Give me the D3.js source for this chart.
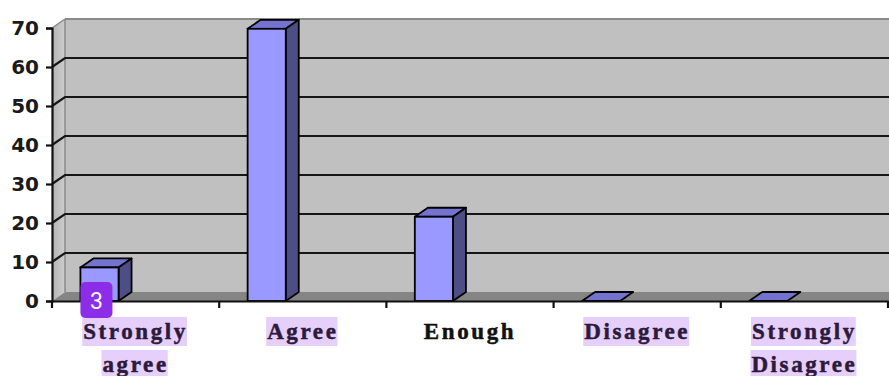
<!DOCTYPE html>
<html>
<head>
<meta charset="utf-8">
<script src="https://cdn.jsdelivr.net/npm/d3@7"></script>
<style>
  html, body { margin: 0; padding: 0; background: #ffffff; }
  svg { display: block; }
</style>
</head>
<body>
<svg id="chart" width="889" height="376"></svg>
<script>
// Survey responses (percent of respondents)
const categories = ["Strongly agree", "Agree", "Enough", "Disagree", "Strongly Disagree"];
const labelLines = [["Strongly", "agree"], ["Agree"], ["Enough"], ["Disagree"], ["Strongly", "Disagree"]];
const values = [8.6, 69.8, 21.6, 0, 0];
const yTicks = [0, 10, 20, 30, 40, 50, 60, 70];
const highlighted = ["Strongly agree", "Agree", "Disagree", "Strongly Disagree"];
const badgeText = "3";

const svg = d3.select("#chart");

// front plane of the 3D box
const x = d3.scaleBand().domain(categories).range([52, 888]).padding(0);
const y = d3.scaleLinear().domain([0, 70]).range([301, 28]);

// depth offset from the front plane to the back wall
const DX = 13, DY = -9;
const W = 889;

// back wall
svg.append("rect")
  .attr("x", 52 + DX).attr("y", y(70) + DY)
  .attr("width", W - (52 + DX)).attr("height", y(0) - y(70))
  .attr("fill", "#c0c0c0");
svg.append("line")
  .attr("x1", 52 + DX).attr("x2", W)
  .attr("y1", y(70) + DY).attr("y2", y(70) + DY)
  .attr("stroke", "#8a8a8a").attr("stroke-width", 2);

// side wall
const sideGrad = svg.append("defs").append("linearGradient")
  .attr("id", "side").attr("x1", 0).attr("x2", 1).attr("y1", 0).attr("y2", 0);
sideGrad.append("stop").attr("offset", 0).attr("stop-color", "#b4b4b4");
sideGrad.append("stop").attr("offset", 1).attr("stop-color", "#cdcdcd");
svg.append("polygon")
  .attr("points", [[52, y(70)], [52 + DX, y(70) + DY], [52 + DX, y(0) + DY], [52, y(0)]].join(" "))
  .attr("fill", "url(#side)");
svg.append("line")
  .attr("x1", 52 + DX).attr("x2", 52 + DX)
  .attr("y1", y(70) + DY).attr("y2", y(0) + DY)
  .attr("stroke", "#8a8a8a").attr("stroke-width", 1.5);
svg.append("line")
  .attr("x1", 52).attr("x2", 52 + DX)
  .attr("y1", y(70)).attr("y2", y(70) + DY)
  .attr("stroke", "#8a8a8a").attr("stroke-width", 1.5);

// floor
svg.append("polygon")
  .attr("points", [[52, y(0)], [52 + DX, y(0) + DY], [W, y(0) + DY], [W, y(0)]].join(" "))
  .attr("fill", "#858585");

// gridlines across side wall and back wall
svg.append("g").selectAll("polyline")
  .data(yTicks.filter(d => d > 0 && d < 70))
  .join("polyline")
  .attr("points", d => [[52, y(d)], [52 + DX, y(d) + DY], [W, y(d) + DY]].join(" "))
  .attr("fill", "none").attr("stroke", "#161616").attr("stroke-width", 2.2);

// bars
const barOff = 0.17, barW = 0.228;
const bars = svg.append("g").selectAll("g")
  .data(categories.map((c, i) => ({ c, v: values[i] })))
  .join("g");

bars.each(function (d) {
  const g = d3.select(this);
  const x0 = x(d.c) + x.bandwidth() * barOff;
  const x1 = x0 + x.bandwidth() * barW;
  const yt = y(d.v), yb = y(0);
  // top face
  g.append("polygon")
    .attr("points", [[x0, yt], [x0 + DX, yt + DY], [x1 + DX, yt + DY], [x1, yt]].join(" "))
    .attr("fill", "#7474d0").attr("stroke", "#000").attr("stroke-width", 1.8)
    .attr("stroke-linejoin", "round");
  if (d.v > 0) {
    // side face
    g.append("polygon")
      .attr("points", [[x1, yt], [x1 + DX, yt + DY], [x1 + DX, yb + DY], [x1, yb]].join(" "))
      .attr("fill", "#4e4e86").attr("stroke", "#000").attr("stroke-width", 1.8)
      .attr("stroke-linejoin", "round");
    // front face
    g.append("rect")
      .attr("x", x0).attr("y", yt).attr("width", x1 - x0).attr("height", yb - yt)
      .attr("fill", "#9999ff").attr("stroke", "#000").attr("stroke-width", 1.8);
  }
});

// y axis
const yAxis = svg.append("g")
  .attr("transform", "translate(52,0)")
  .call(d3.axisLeft(y).tickValues(yTicks).tickSize(6).tickPadding(7).tickFormat(d3.format("d")));
yAxis.select(".domain").attr("stroke", "#111").attr("stroke-width", 2.2);
yAxis.selectAll(".tick line").attr("stroke", "#111").attr("stroke-width", 2.2);
yAxis.selectAll(".tick text")
  .attr("font-family", "'DejaVu Sans', Verdana, sans-serif")
  .attr("font-weight", "bold").attr("font-size", 20).attr("fill", "#1a1a1a");

// x axis
const xAxis = svg.append("g")
  .attr("transform", `translate(0,${y(0)})`)
  .call(d3.axisBottom(x).tickSize(0).tickFormat(""));
xAxis.select(".domain").attr("stroke", "#111").attr("stroke-width", 2.2);
svg.append("g").selectAll("line")
  .data(categories.concat([null]))
  .join("line")
  .attr("x1", (d, i) => i < categories.length ? x(d) : x.range()[1])
  .attr("x2", (d, i) => i < categories.length ? x(d) : x.range()[1])
  .attr("y1", y(0)).attr("y2", y(0) + 7)
  .attr("stroke", "#111").attr("stroke-width", 2.2);

// category labels
const labels = svg.append("g");
categories.forEach((c, i) => {
  const cx = x(c) + x.bandwidth() / 2;
  labelLines[i].forEach((line, j) => {
    const base = 339 + j * 33;
    const hl = highlighted.includes(c);
    const ink = hl ? "#2c1a3c" : "#111111";
    const t = labels.append("text")
      .attr("x", cx).attr("y", base)
      .attr("text-anchor", "middle")
      .attr("font-family", "'Liberation Serif', 'Times New Roman', serif")
      .attr("font-weight", "bold").attr("font-size", 23)
      .attr("letter-spacing", 2.6)
      .attr("fill", ink).attr("stroke", ink).attr("stroke-width", 0.5)
      .text(line);
    if (hl) {
      const bb = t.node().getBBox();
      labels.insert("rect", () => t.node())
        .attr("x", bb.x - 1).attr("y", base - 22)
        .attr("width", bb.width).attr("height", 29)
        .attr("fill", "#e6cffb");
    }
  });
});

// numbered marker over the first bar
const bx = x(categories[0]) + x.bandwidth() * barOff;
svg.append("rect")
  .attr("x", bx).attr("y", y(0) - 19)
  .attr("width", 32).attr("height", 36).attr("rx", 5)
  .attr("fill", "#8c2ee8");
svg.append("text")
  .attr("x", bx + 16).attr("y", y(0) + 8)
  .attr("text-anchor", "middle")
  .attr("font-family", "Roboto, 'Noto Sans', sans-serif")
  .attr("font-size", 23).attr("fill", "#ffffff")
  .text(badgeText);
</script>
</body>
</html>
